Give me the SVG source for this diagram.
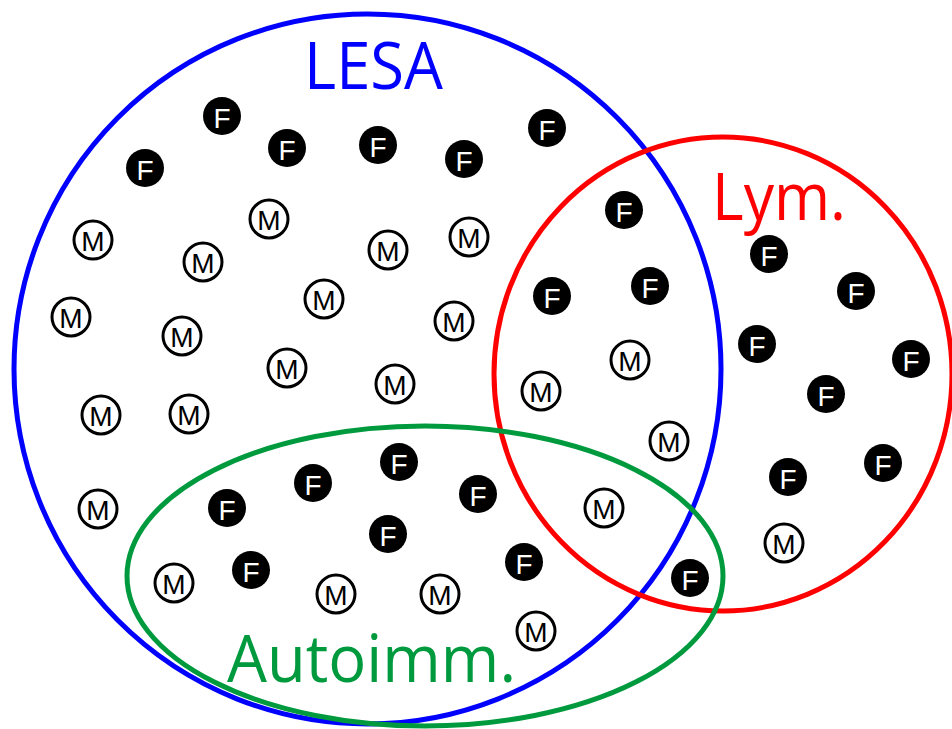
<svg xmlns="http://www.w3.org/2000/svg" width="952" height="729" viewBox="0 0 952 729">
<style>
.set{fill:none;stroke-width:5}
.lbl{font-family:"Open Sans","Noto Sans","DejaVu Sans",sans-serif;font-size:65px}
.f circle{fill:#000}
.f text{fill:#fff}
.m circle{fill:#fff;stroke:#000;stroke-width:3}
.m text{fill:#000;font-size:30px}
.n text{font-family:"Liberation Sans",Arial,sans-serif;font-size:28px;text-anchor:middle}
</style>
<rect width="952" height="729" fill="#fff"/>
<g id="sets">
<ellipse id="lesa" class="set" cx="367.5" cy="369" rx="353.5" ry="355" stroke="#0000ff"/>
<ellipse id="lym" class="set" cx="723" cy="374" rx="229" ry="237" stroke="#ff0000"/>
<ellipse id="autoimm" class="set" cx="425" cy="576" rx="298" ry="150" stroke="#009a3e"/>
</g>
<g id="labels">
<text class="lbl" x="304" y="89" fill="#0000ff" textLength="139" lengthAdjust="spacingAndGlyphs">LESA</text>
<text class="lbl" x="712" y="220" fill="#ff0000" textLength="134" lengthAdjust="spacingAndGlyphs">Lym.</text>
<text class="lbl" x="227" y="682" fill="#009a3e" textLength="289" lengthAdjust="spacingAndGlyphs">Autoimm.</text>
</g>
<g id="nodes">
<g id="f1" class="n f" transform="translate(222,116)"><circle r="19"/><text y="11.5">F</text></g>
<g id="f2" class="n f" transform="translate(145,168)"><circle r="19"/><text y="11.5">F</text></g>
<g id="f3" class="n f" transform="translate(287,148)"><circle r="19"/><text y="11.5">F</text></g>
<g id="f4" class="n f" transform="translate(378,145)"><circle r="19"/><text y="11.5">F</text></g>
<g id="f5" class="n f" transform="translate(464,159)"><circle r="19"/><text y="11.5">F</text></g>
<g id="f6" class="n f" transform="translate(547,128)"><circle r="19"/><text y="11.5">F</text></g>
<g id="f7" class="n f" transform="translate(624,210)"><circle r="19"/><text y="11.5">F</text></g>
<g id="f8" class="n f" transform="translate(769,254)"><circle r="19"/><text y="11.5">F</text></g>
<g id="f9" class="n f" transform="translate(856,291)"><circle r="19"/><text y="11.5">F</text></g>
<g id="f10" class="n f" transform="translate(552,296)"><circle r="19"/><text y="11.5">F</text></g>
<g id="f11" class="n f" transform="translate(650,286)"><circle r="19"/><text y="11.5">F</text></g>
<g id="f12" class="n f" transform="translate(757,344)"><circle r="19"/><text y="11.5">F</text></g>
<g id="f13" class="n f" transform="translate(911,359)"><circle r="19"/><text y="11.5">F</text></g>
<g id="f14" class="n f" transform="translate(826,394)"><circle r="19"/><text y="11.5">F</text></g>
<g id="f15" class="n f" transform="translate(883,463)"><circle r="19"/><text y="11.5">F</text></g>
<g id="f16" class="n f" transform="translate(788,477)"><circle r="19"/><text y="11.5">F</text></g>
<g id="f17" class="n f" transform="translate(690,578)"><circle r="19"/><text y="11.5">F</text></g>
<g id="f18" class="n f" transform="translate(524,562)"><circle r="19"/><text y="11.5">F</text></g>
<g id="f19" class="n f" transform="translate(478,494)"><circle r="19"/><text y="11.5">F</text></g>
<g id="f20" class="n f" transform="translate(399,462)"><circle r="19"/><text y="11.5">F</text></g>
<g id="f21" class="n f" transform="translate(313,483)"><circle r="19"/><text y="11.5">F</text></g>
<g id="f22" class="n f" transform="translate(227,508)"><circle r="19"/><text y="11.5">F</text></g>
<g id="f23" class="n f" transform="translate(388,534)"><circle r="19"/><text y="11.5">F</text></g>
<g id="f24" class="n f" transform="translate(251,570)"><circle r="19"/><text y="11.5">F</text></g>
<g id="m1" class="n m" transform="translate(93,240)"><circle r="19"/><text y="11">M</text></g>
<g id="m2" class="n m" transform="translate(203,262)"><circle r="19"/><text y="11">M</text></g>
<g id="m3" class="n m" transform="translate(269,219)"><circle r="19"/><text y="11">M</text></g>
<g id="m4" class="n m" transform="translate(388,250)"><circle r="19"/><text y="11">M</text></g>
<g id="m5" class="n m" transform="translate(469,237)"><circle r="19"/><text y="11">M</text></g>
<g id="m6" class="n m" transform="translate(71,317)"><circle r="19"/><text y="11">M</text></g>
<g id="m7" class="n m" transform="translate(182,336)"><circle r="19"/><text y="11">M</text></g>
<g id="m8" class="n m" transform="translate(324,299)"><circle r="19"/><text y="11">M</text></g>
<g id="m9" class="n m" transform="translate(454,321)"><circle r="19"/><text y="11">M</text></g>
<g id="m10" class="n m" transform="translate(287,368)"><circle r="19"/><text y="11">M</text></g>
<g id="m11" class="n m" transform="translate(395,384)"><circle r="19"/><text y="11">M</text></g>
<g id="m12" class="n m" transform="translate(101,415)"><circle r="19"/><text y="11">M</text></g>
<g id="m13" class="n m" transform="translate(189,414)"><circle r="19"/><text y="11">M</text></g>
<g id="m14" class="n m" transform="translate(98,509)"><circle r="19"/><text y="11">M</text></g>
<g id="m15" class="n m" transform="translate(174,583)"><circle r="19"/><text y="11">M</text></g>
<g id="m16" class="n m" transform="translate(336,594)"><circle r="19"/><text y="11">M</text></g>
<g id="m17" class="n m" transform="translate(440,594)"><circle r="19"/><text y="11">M</text></g>
<g id="m18" class="n m" transform="translate(536,631)"><circle r="19"/><text y="11">M</text></g>
<g id="m19" class="n m" transform="translate(604,508)"><circle r="19"/><text y="11">M</text></g>
<g id="m20" class="n m" transform="translate(669,441)"><circle r="19"/><text y="11">M</text></g>
<g id="m21" class="n m" transform="translate(784,543)"><circle r="19"/><text y="11">M</text></g>
<g id="m22" class="n m" transform="translate(541,391)"><circle r="19"/><text y="11">M</text></g>
<g id="m23" class="n m" transform="translate(630,360)"><circle r="19"/><text y="11">M</text></g>
</g>
</svg>
